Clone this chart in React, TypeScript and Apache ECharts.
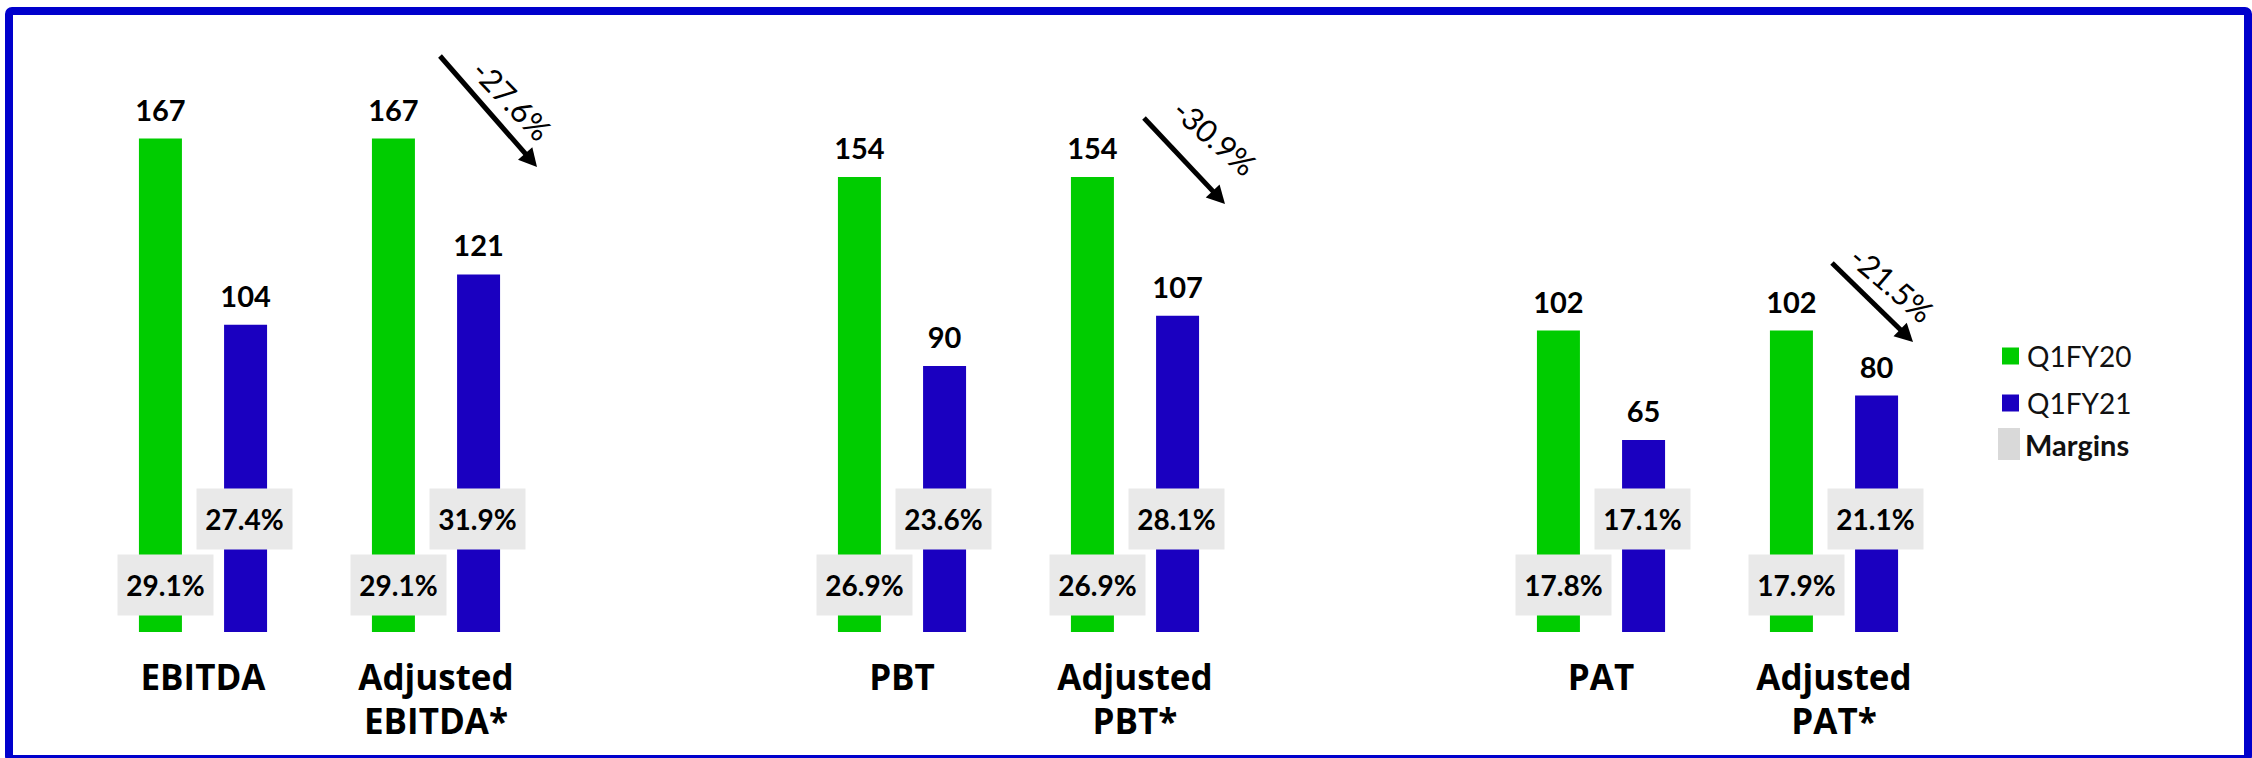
import React, { useEffect, useRef } from 'react';
import * as echarts from 'echarts';

// ---------- data ----------
const categories = ['EBITDA', 'Adjusted\nEBITDA*', '', 'PBT', 'Adjusted\nPBT*', '', 'PAT', 'Adjusted\nPAT*'];
const q1fy20 = [167, 167, null, 154, 154, null, 102, 102];
const q1fy21 = [104, 121, null, 90, 107, null, 65, 80];
const margin20 = ['29.1%', '29.1%', null, '26.9%', '26.9%', null, '17.8%', '17.9%'];
const margin21 = ['27.4%', '31.9%', null, '23.6%', '28.1%', null, '17.1%', '21.1%'];
const changeLabels = ['-27.6%', '-30.9%', '-21.5%'];

// ---------- annotation layout (pixels) ----------
const arrowLayout = [
  { s: [440, 56], t: [537, 167], c: [512, 100], a: 46 },
  { s: [1144, 118], t: [1225, 204], c: [1215, 137], a: 41 },
  { s: [1832, 263], t: [1913, 342], c: [1892, 284], a: 40.5 },
];

const GREEN = '#00CC00';
const BLUE = '#1A00C0';
const BOX = '#E9E9E9';

function buildArrows(): any[] {
  const els: any[] = [];
  arrowLayout.forEach((al, k) => {
    const [sx, sy] = al.s;
    const [tx, ty] = al.t;
    const len = Math.hypot(tx - sx, ty - sy);
    const ux = (tx - sx) / len;
    const uy = (ty - sy) / len;
    const nx = -uy;
    const ny = ux;
    const headLen = 18;
    const headHalf = 9.5;
    const bx = tx - ux * headLen;
    const by = ty - uy * headLen;
    els.push({
      type: 'line',
      shape: { x1: sx, y1: sy, x2: bx + ux * 2, y2: by + uy * 2 },
      style: { stroke: '#000', lineWidth: 5 },
      z: 10,
    });
    els.push({
      type: 'polygon',
      shape: {
        points: [
          [tx, ty],
          [bx + nx * headHalf, by + ny * headHalf],
          [bx - nx * headHalf, by - ny * headHalf],
        ],
      },
      style: { fill: '#000' },
      z: 10,
    });
    els.push({
      type: 'text',
      x: al.c[0],
      y: al.c[1],
      rotation: (-al.a * Math.PI) / 180,
      style: {
        text: changeLabels[k],
        font: '31px Lato',
        fill: '#000',
        align: 'center',
        verticalAlign: 'middle',
      },
      z: 10,
    });
  });
  return els;
}

export default function App() {
  const ref = useRef<HTMLDivElement>(null);

  useEffect(() => {
    if (!ref.current) return;
    const chart = echarts.init(ref.current, undefined, { renderer: 'svg' });

    const marginData = categories
      .map((_, i) => (margin20[i] != null ? [i, 0] : null))
      .filter((d) => d != null);

    const option: any = {
      animation: false,
      backgroundColor: '#ffffff',
      grid: { left: 86.5, right: 301.5, top: 41, bottom: 126 },
      xAxis: {
        type: 'category',
        data: categories,
        axisLine: { show: false },
        axisTick: { show: false },
        axisLabel: {
          interval: 0,
          margin: 22,
          fontFamily: 'Open Sans',
          fontWeight: 'bold',
          fontSize: 35,
          lineHeight: 44,
          color: '#000',
        },
      },
      yAxis: { type: 'value', min: 0, max: 200, show: false },
      legend: [
        {
          data: ['Q1FY20', 'Q1FY21'],
          orient: 'vertical',
          left: 1997,
          top: 336,
          itemWidth: 17,
          itemHeight: 17,
          itemGap: 17,
          icon: 'rect',
          selectedMode: false,
          textStyle: { fontFamily: 'Lato', fontSize: 28, color: '#111', lineHeight: 30, padding: [0, 0, 0, 3] },
        },
        {
          data: ['Margins'],
          orient: 'vertical',
          left: 1993,
          top: 423,
          itemWidth: 22,
          itemHeight: 32,
          icon: 'rect',
          selectedMode: false,
          textStyle: { fontFamily: 'Lato', fontWeight: 'bold', fontSize: 29, color: '#111', lineHeight: 32 },
        },
      ],
      series: [
        {
          name: 'Q1FY20',
          type: 'bar',
          data: q1fy20,
          barWidth: 43,
          barGap: '98%',
          itemStyle: { color: GREEN },
          label: {
            show: true,
            position: 'top',
            distance: 15,
            fontFamily: 'Lato',
            fontWeight: 'bold',
            fontSize: 29,
            color: '#000',
          },
        },
        {
          name: 'Q1FY21',
          type: 'bar',
          data: q1fy21,
          barWidth: 43,
          barGap: '98%',
          itemStyle: { color: BLUE },
          label: {
            show: true,
            position: 'top',
            distance: 15,
            fontFamily: 'Lato',
            fontWeight: 'bold',
            fontSize: 29,
            color: '#000',
          },
        },
        {
          name: 'Margins',
          type: 'custom',
          z: 5,
          itemStyle: { color: '#D9D9D9' },
          data: marginData,
          encode: { x: 0, y: 1 },
          renderItem: (params: any, api: any) => {
            const i = api.value(0);
            const base = api.coord([i, 0]);
            const boxes = [
              { text: margin20[i], dx: -42.5 + 5, dy: -47 },
              { text: margin21[i], dx: 42.5 - 1, dy: -113 },
            ];
            const children: any[] = [];
            boxes.forEach((b) => {
              if (b.text == null) return;
              const cx = base[0] + b.dx;
              const cy = base[1] + b.dy;
              children.push({
                type: 'rect',
                shape: { x: cx - 48, y: cy - 30.5, width: 96, height: 61 },
                style: { fill: BOX },
              });
              children.push({
                type: 'text',
                x: cx,
                y: cy,
                style: {
                  text: b.text,
                  font: 'bold 28px Lato',
                  fill: '#000',
                  align: 'center',
                  verticalAlign: 'middle',
                },
              });
            });
            return { type: 'group', children };
          },
        },
      ],
      graphic: [
        {
          type: 'rect',
          shape: { x: 9, y: 11, width: 2239, height: 748, r: 3 },
          style: { fill: 'none', stroke: '#0000CC', lineWidth: 8 },
          z: -1,
          silent: true,
        },
        ...buildArrows(),
      ],
    };

    chart.setOption(option);
    return () => chart.dispose();
  }, []);

  return (
    <div
      ref={ref}
      style={{ position: 'fixed', left: 0, top: 0, width: 2252, height: 758 }}
    />
  );
}
